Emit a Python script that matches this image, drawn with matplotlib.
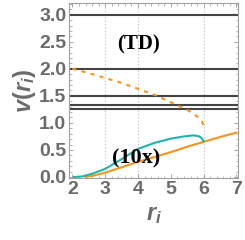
import matplotlib
matplotlib.use("Agg")
import matplotlib.pyplot as plt
from matplotlib.ticker import MultipleLocator

# data
levels = [3.0, 2.0, 1.5, 4 / 3, 1.25]

x_td = [2.0, 2.5, 3.0, 3.5, 4.0, 4.5, 5.0, 5.5, 5.8, 5.95, 6.0]
v_td = [2.0, 1.92, 1.83, 1.74, 1.63, 1.52, 1.38, 1.24, 1.12, 1.02, 0.95]

x_lin = [2.4, 2.6, 3.0, 3.5, 4.0, 4.5, 5.0, 5.5, 6.0, 6.5, 7.0]
v_lin = [0.0, 0.02, 0.08, 0.18, 0.28, 0.37, 0.46, 0.56, 0.65, 0.74, 0.82]

x_10x = [2.05, 2.3, 2.6, 3.0, 3.5, 4.0, 4.5, 5.0, 5.4, 5.7, 5.87, 5.95, 6.0]
v_10x = [0.0, 0.01, 0.06, 0.15, 0.33, 0.52, 0.63, 0.71, 0.75, 0.77, 0.75, 0.71, 0.66]

grid_x = [3, 4, 6]

plt.rcParams["mathtext.fontset"] = "custom"
plt.rcParams["mathtext.it"] = "Liberation Sans:italic:bold"
plt.rcParams["mathtext.rm"] = "Liberation Sans:bold"

grey = "#6b6b6b"
orange = "#f7931e"
teal = "#1fb3ad"

fig = plt.figure(figsize=(2.45, 2.4), dpi=100)
ax = fig.add_axes([0.282, 0.258, 0.69, 0.728])

for gx in grid_x:
    ax.axvline(gx, color="#bbbbbb", linestyle=(0, (1, 2)), linewidth=0.8, zorder=0)

for lv in levels:
    ax.axhline(lv, color="#444444", linewidth=1.5)

ax.plot(x_td, v_td, color=orange, linestyle=(0, (2, 2.5)), linewidth=1.5)
ax.plot(x_lin, v_lin, color=orange, linewidth=1.5)
ax.plot(x_10x, v_10x, color=teal, linewidth=1.5)

ax.text(4.0, 2.45, "(TD)", family="Liberation Serif", weight="bold", fontsize=15,
        ha="center", va="center", color="black")
ax.text(3.95, 0.35, "(10x)", family="Liberation Serif", weight="bold", fontsize=16,
        ha="center", va="center", color="black")

ax.set_xlim(1.9, 7.05)
ax.set_ylim(-0.02, 3.21)
ax.xaxis.set_major_locator(MultipleLocator(1))
ax.xaxis.set_minor_locator(MultipleLocator(0.2))
ax.yaxis.set_major_locator(MultipleLocator(0.5))
ax.yaxis.set_minor_locator(MultipleLocator(0.1))
ax.yaxis.set_major_formatter(matplotlib.ticker.FormatStrFormatter("%.1f"))

ax.tick_params(which="both", direction="in", top=True, right=True, colors="#999999",
               labelcolor=grey, labelsize=14, pad=2)
ax.tick_params(which="major", length=3, width=0.6)
ax.tick_params(which="minor", length=1.8, width=0.5)
for lab in ax.get_xticklabels() + ax.get_yticklabels():
    lab.set_fontfamily("Liberation Sans")
    lab.set_fontweight("bold")

for sp in ax.spines.values():
    sp.set_color("#a0a0a0")
    sp.set_linewidth(0.8)

ax.set_xlabel(r"$r_i$", fontsize=17, color=grey, labelpad=3)
ax.set_ylabel(r"$v(r_i)$", fontsize=17, color=grey, labelpad=1)

fig.savefig("out.png", dpi=100)
